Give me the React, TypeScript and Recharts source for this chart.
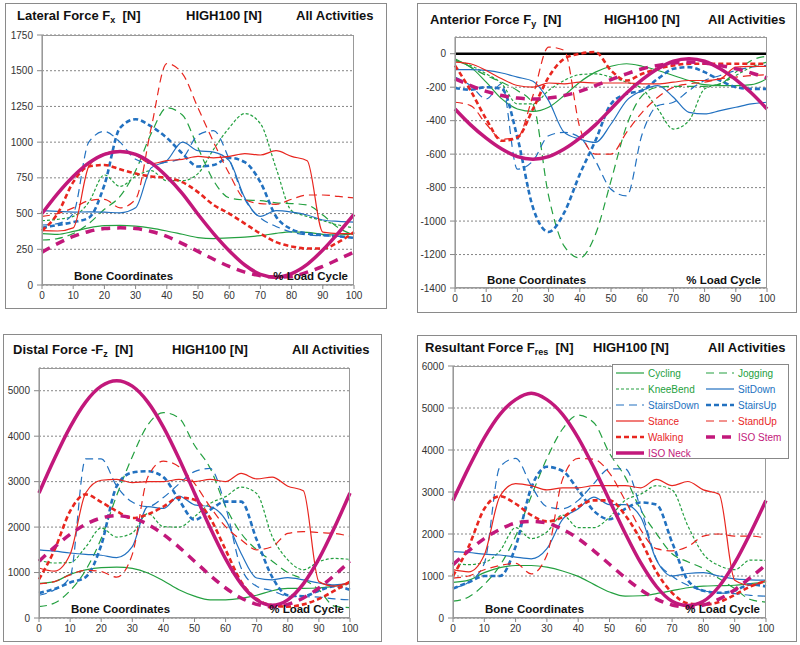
import { LineChart, Line, XAxis, YAxis, CartesianGrid, ReferenceLine } from "recharts"

const loadCycle = [0, 5, 10, 15, 20, 25, 30, 35, 40, 45, 50, 55, 60, 65, 70, 75, 80, 85, 90, 95, 100]
const xTicks = [0, 10, 20, 30, 40, 50, 60, 70, 80, 90, 100]

// Lateral force Fx
const fxCycling = [360, 355, 375, 400, 415, 418, 412, 398, 378, 355, 332, 325, 330, 335, 345, 362, 372, 368, 355, 350, 360]
const fxJogging = [315, 325, 360, 430, 530, 620, 800, 1060, 1240, 1190, 960, 730, 610, 595, 590, 575, 570, 560, 490, 400, 350]
const fxKneeBend = [450, 460, 480, 580, 770, 690, 760, 800, 730, 730, 780, 950, 1100, 1200, 1130, 820, 520, 480, 450, 420, 400]
const fxSitDown = [520, 515, 510, 512, 510, 505, 540, 820, 870, 1000, 940, 930, 870, 610, 480, 520, 510, 490, 455, 445, 440]
const fxStairsDown = [420, 430, 500, 1000, 1075, 1000, 880, 850, 860, 890, 1050, 1080, 880, 600, 470, 410, 370, 350, 345, 340, 330]
const fxStairsUp = [400, 420, 440, 470, 700, 1100, 1160, 1110, 1030, 920, 830, 840, 890, 860, 720, 480, 390, 360, 350, 340, 330]
const fxStance = [380, 378, 400, 830, 920, 940, 910, 850, 870, 880, 900, 890, 900, 920, 910, 940, 900, 870, 370, 360, 360]
const fxStandUp = [480, 500, 540, 590, 600, 540, 600, 1100, 1550, 1480, 1240, 1000, 780, 600, 570, 565, 600, 630, 630, 620, 610]
const fxWalking = [380, 500, 720, 830, 840, 810, 780, 760, 750, 720, 650, 560, 500, 430, 360, 300, 270, 255, 255, 300, 370]
const fxIsoStem = [230, 290, 340, 375, 395, 400, 395, 375, 340, 290, 235, 180, 130, 90, 65, 55, 60, 90, 130, 180, 230]
const fxIsoNeck = [500, 640, 760, 855, 915, 935, 915, 855, 760, 640, 495, 360, 240, 140, 75, 55, 80, 145, 245, 365, 495]

// Anterior force Fy
const fyCycling = [-40, -80, -170, -270, -330, -345, -320, -250, -170, -110, -75, -60, -75, -100, -130, -160, -185, -190, -190, -185, -150]
const fyJogging = [-30, -80, -130, -170, -220, -300, -850, -1150, -1220, -1080, -760, -430, -250, -200, -195, -195, -195, -180, -110, -40, -15]
const fyKneeBend = [-40, -70, -120, -180, -300, -300, -220, -160, -125, -120, -140, -170, -210, -330, -450, -400, -210, -180, -130, -80, -50]
const fySitDown = [-95, -95, -100, -115, -140, -165, -280, -470, -510, -530, -420, -280, -220, -190, -260, -350, -360, -340, -320, -300, -290]
const fyStairsDown = [-140, -190, -270, -180, -690, -640, -490, -470, -500, -640, -810, -850, -480, -310, -290, -220, -160, -130, -100, -80, -70]
const fyStairsUp = [-205, -215, -200, -210, -500, -920, -1065, -950, -720, -520, -300, -240, -220, -150, -90, -80, -110, -160, -200, -210, -210]
const fyStance = [-50, -60, -100, -150, -190, -200, -175, -180, -170, -175, -175, -175, -180, -180, -170, -160, -160, -150, -80, -75, -75]
const fyStandUp = [-290, -310, -420, -510, -500, -250, 40, 20, -440, -600, -600, -470, -350, -260, -200, -180, -170, -150, -140, -130, -125]
const fyWalking = [-70, -220, -390, -520, -500, -330, -140, -30, 0, 10, -100, -160, -120, -90, -70, -60, -60, -60, -60, -60, -60]
const fyIsoStem = [-150, -190, -225, -250, -265, -270, -265, -250, -225, -190, -155, -120, -90, -70, -55, -50, -55, -70, -90, -115, -145]
const fyIsoNeck = [-330, -425, -505, -570, -615, -630, -615, -570, -505, -425, -330, -235, -155, -90, -45, -30, -45, -90, -155, -235, -330]

// Distal force -Fz
const fzCycling = [760, 800, 960, 1060, 1110, 1120, 1090, 990, 820, 620, 480, 400, 400, 430, 500, 600, 650, 650, 660, 700, 760]
const fzJogging = [250, 330, 600, 1050, 1750, 2700, 3550, 4250, 4520, 4400, 3800, 3300, 2450, 1860, 1500, 1250, 1000, 850, 620, 260, 230]
const fzKneeBend = [1270, 1210, 1220, 1560, 1980, 1780, 1870, 2300, 2010, 2000, 2230, 2520, 2670, 2880, 2740, 1790, 1280, 1060, 1240, 1310, 1290]
const fzSitDown = [1500, 1470, 1430, 1400, 1380, 1330, 1570, 2450, 2410, 2680, 2490, 2450, 2160, 1420, 880, 840, 890, 840, 770, 730, 760]
const fzStairsDown = [500, 620, 900, 3500, 3500, 2900, 2550, 2450, 2650, 2950, 3220, 3290, 2450, 1100, 700, 600, 480, 470, 460, 420, 400]
const fzStairsUp = [550, 640, 780, 900, 1600, 2900, 3200, 3230, 3100, 2600, 2160, 2380, 2560, 2560, 1720, 900, 500, 480, 600, 700, 620]
const fzStance = [1100, 1030, 1400, 2750, 3030, 3050, 2980, 3000, 3000, 3050, 3000, 3050, 3000, 3180, 3060, 3100, 2900, 2800, 800, 700, 800]
const fzStandUp = [750, 800, 950, 1050, 1020, 900, 1400, 3100, 3450, 3330, 2960, 2450, 2010, 1720, 1500, 1570, 1860, 1900, 1880, 1860, 1800]
const fzWalking = [850, 1500, 2350, 2720, 2550, 2350, 2200, 2280, 2450, 2650, 2600, 2200, 1500, 800, 420, 280, 250, 300, 420, 600, 800]
const fzIsoStem = [1250, 1560, 1840, 2060, 2200, 2250, 2200, 2060, 1840, 1560, 1250, 940, 660, 440, 300, 250, 300, 440, 660, 940, 1250]
const fzIsoNeck = [2750, 3510, 4200, 4750, 5100, 5220, 5100, 4750, 4200, 3510, 2750, 1990, 1300, 750, 400, 280, 400, 750, 1300, 1990, 2750]

// Resultant force Fres
const frCycling = [850, 900, 1080, 1200, 1250, 1250, 1210, 1120, 990, 800, 620, 520, 530, 580, 650, 720, 760, 770, 780, 820, 860]
const frJogging = [400, 500, 800, 1250, 1950, 2900, 3800, 4500, 4830, 4650, 3920, 3360, 2570, 2010, 1530, 1340, 1180, 940, 700, 440, 380]
const frKneeBend = [1300, 1270, 1320, 1600, 2150, 1890, 2050, 2450, 2150, 2150, 2400, 2800, 2950, 3150, 3050, 2200, 1520, 1250, 1150, 1380, 1370]
const frSitDown = [1580, 1560, 1520, 1500, 1450, 1410, 1650, 2350, 2600, 2880, 2700, 2700, 2400, 1380, 1000, 1060, 1080, 1000, 930, 910, 900]
const frStairsDown = [720, 850, 1300, 3600, 3800, 3150, 2650, 2600, 2800, 3200, 3550, 3550, 2600, 1400, 1000, 780, 650, 600, 580, 540, 520]
const frStairsUp = [700, 850, 1000, 1000, 1700, 3100, 3600, 3500, 3050, 2550, 2350, 2600, 2750, 2700, 1800, 900, 650, 600, 650, 800, 750]
const frStance = [1150, 1100, 1500, 2900, 3200, 3150, 3050, 3100, 3100, 3150, 3150, 3150, 3100, 3300, 3150, 3250, 3050, 2950, 900, 780, 900]
const frStandUp = [950, 1000, 1150, 1250, 1300, 1050, 1500, 3300, 3800, 3780, 3450, 2800, 2100, 1650, 1600, 1700, 1950, 2000, 1950, 1950, 1900]
const frWalking = [1000, 1700, 2600, 2900, 2720, 2450, 2300, 2400, 2650, 2800, 2800, 2450, 1850, 1100, 600, 350, 320, 380, 550, 750, 880]
const frIsoStem = [1270, 1600, 1890, 2110, 2260, 2300, 2260, 2110, 1890, 1600, 1280, 960, 670, 450, 310, 260, 310, 450, 670, 960, 1270]
const frIsoNeck = [2800, 3580, 4290, 4850, 5200, 5350, 5200, 4850, 4290, 3580, 2800, 2020, 1310, 750, 400, 300, 400, 750, 1310, 2020, 2800]

const GREEN = "#24a040"
const BLUE = "#2271c0"
const RED = "#e8261f"
const MAGENTA = "#c2187b"

const series = [
  { key: "Cycling", color: GREEN, width: 1.2, dash: undefined },
  { key: "Jogging", color: GREEN, width: 1.2, dash: "8 5" },
  { key: "KneeBend", color: GREEN, width: 1.2, dash: "3 2" },
  { key: "SitDown", color: BLUE, width: 1.2, dash: undefined },
  { key: "StairsDown", color: BLUE, width: 1.2, dash: "8 5" },
  { key: "StairsUp", color: BLUE, width: 2.6, dash: "5 3" },
  { key: "Stance", color: RED, width: 1.2, dash: undefined },
  { key: "StandUp", color: RED, width: 1.2, dash: "8 5" },
  { key: "Walking", color: RED, width: 2.6, dash: "5 3" },
  { key: "ISO Stem", color: MAGENTA, width: 3.5, dash: "9 7" },
  { key: "ISO Neck", color: MAGENTA, width: 3.5, dash: undefined },
]

const panels = [
  {
    title: "Lateral Force F", sub: "x", unit: "  [N]",
    box: [5, 3, 387, 309], plot: [42, 35, 354, 285],
    titleX: [17, 186, 296], titleY: 17, noteY: 277,
    domain: [0, 1750], ticks: [0, 250, 500, 750, 1000, 1250, 1500, 1750],
    values: [fxCycling, fxJogging, fxKneeBend, fxSitDown, fxStairsDown, fxStairsUp, fxStance, fxStandUp, fxWalking, fxIsoStem, fxIsoNeck],
  },
  {
    title: "Anterior Force F", sub: "y", unit: "  [N]",
    box: [417, 3, 797, 313], plot: [455, 37, 767, 288],
    titleX: [430, 604, 708], titleY: 21, noteY: 281, zero: true,
    domain: [-1400, 100], ticks: [-1400, -1200, -1000, -800, -600, -400, -200, 0],
    values: [fyCycling, fyJogging, fyKneeBend, fySitDown, fyStairsDown, fyStairsUp, fyStance, fyStandUp, fyWalking, fyIsoStem, fyIsoNeck],
  },
  {
    title: "Distal Force -F", sub: "z", unit: "  [N]",
    box: [3, 334, 382, 642], plot: [39, 368, 350, 618],
    titleX: [13, 172, 292], titleY: 351, noteY: 610,
    domain: [0, 5500], ticks: [0, 1000, 2000, 3000, 4000, 5000],
    values: [fzCycling, fzJogging, fzKneeBend, fzSitDown, fzStairsDown, fzStairsUp, fzStance, fzStandUp, fzWalking, fzIsoStem, fzIsoNeck],
  },
  {
    title: "Resultant Force F", sub: "res", unit: "  [N]",
    box: [417, 335, 797, 642], plot: [453, 366, 766, 618],
    titleX: [425, 593, 708], titleY: 349, noteY: 610,
    domain: [0, 6000], ticks: [0, 1000, 2000, 3000, 4000, 5000, 6000],
    values: [frCycling, frJogging, frKneeBend, frSitDown, frStairsDown, frStairsUp, frStance, frStandUp, frWalking, frIsoStem, frIsoNeck],
  },
]

const FONT = "'Liberation Sans', Arial, sans-serif"
const X_AXIS_H = 22

function Panel({ p }: { p: (typeof panels)[number] }) {
  const [bl, bt, br, bb] = p.box
  const [pl, pt, pr, pb] = p.plot
  const w = br - bl
  const h = bb - bt
  const rows = loadCycle.map((x, i) => {
    const row: Record<string, number> = { x }
    series.forEach((s, j) => (row[s.key] = p.values[j][i]))
    return row
  })
  const titleStyle = {
    position: "absolute" as const,
    top: p.titleY - bt - 9,
    fontWeight: "bold" as const,
    fontSize: 13,
    whiteSpace: "pre" as const,
    color: "#111",
  }
  const noteStyle = {
    position: "absolute" as const,
    top: p.noteY - bt - 7,
    fontWeight: "bold" as const,
    fontSize: 11.5,
    color: "#111",
    whiteSpace: "pre" as const,
  }
  return (
    <div style={{ position: "absolute", left: bl, top: bt, width: w, height: h, fontFamily: FONT }}>
      <LineChart
        width={w}
        height={h}
        data={rows}
        margin={{ top: pt - bt, right: br - pr, left: 0, bottom: bb - pb - X_AXIS_H }}
      >
        <CartesianGrid vertical={false} stroke="#666" strokeDasharray="2 2" strokeWidth={0.8} />
        <XAxis
          dataKey="x"
          type="number"
          domain={[0, 100]}
          ticks={xTicks}
          height={X_AXIS_H}
          tickSize={4}
          tickMargin={3}
          stroke="#888"
          tick={{ fill: "#333", fontSize: 10, fontFamily: FONT }}
        />
        <YAxis
          type="number"
          domain={p.domain}
          ticks={p.ticks}
          width={pl - bl}
          tickSize={5}
          tickMargin={4}
          stroke="#888"
          interval={0}
          tick={{ fill: "#333", fontSize: 10, fontFamily: FONT }}
        />
        {p.zero && <ReferenceLine y={0} stroke="#000" strokeWidth={2.5} />}
        {series.map((s) => (
          <Line
            key={s.key}
            dataKey={s.key}
            type="monotone"
            stroke={s.color}
            strokeWidth={s.width}
            strokeDasharray={s.dash}
            dot={false}
            isAnimationActive={false}
          />
        ))}
      </LineChart>
      <div
        style={{
          position: "absolute",
          left: pl - bl,
          top: pt - bt,
          width: pr - pl,
          height: pb - pt,
          border: "1px solid #999",
          boxSizing: "border-box",
          pointerEvents: "none",
        }}
      />
      <div style={{ position: "absolute", inset: 0, border: "1px solid #8a8a8a", pointerEvents: "none" }} />
      <div style={{ ...titleStyle, left: p.titleX[0] - bl }}>
        {p.title}
        <sub style={{ fontSize: 9, verticalAlign: "-3px" }}>{p.sub}</sub>
        {p.unit}
      </div>
      <div style={{ ...titleStyle, left: p.titleX[1] - bl }}>HIGH100 [N]</div>
      <div style={{ ...titleStyle, left: p.titleX[2] - bl }}>All Activities</div>
      <div style={{ ...noteStyle, left: pl - bl + 32 }}>Bone Coordinates</div>
      <div style={{ ...noteStyle, right: br - pr + 6 }}>% Load Cycle</div>
    </div>
  )
}

function LegendBox() {
  const rowsY = [8, 24, 40, 56, 72, 88]
  return (
    <div
      style={{
        position: "absolute",
        left: 612,
        top: 364,
        width: 177,
        height: 95,
        background: "#fff",
        border: "1px solid #888",
        boxSizing: "border-box",
        fontFamily: FONT,
        fontSize: 10,
      }}
    >
      {series.map((s, i) => {
        const col = i % 2
        const row = Math.floor(i / 2)
        const lx = col === 0 ? 3 : 93
        return (
          <div key={s.key} style={{ position: "absolute", left: lx, top: rowsY[row] - 7, height: 14, display: "flex", alignItems: "center" }}>
            <svg width={28} height={10} style={{ marginRight: 4 }}>
              <line x1={0} y1={5} x2={28} y2={5} stroke={s.color} strokeWidth={s.width} strokeDasharray={s.dash} />
            </svg>
            <span style={{ color: s.color, whiteSpace: "nowrap" }}>{s.key}</span>
          </div>
        )
      })}
    </div>
  )
}

export default function App() {
  return (
    <div style={{ position: "absolute", left: 0, top: 0, width: 800, height: 645, background: "#fff" }}>
      {panels.map((p) => (
        <Panel key={p.title} p={p} />
      ))}
      <LegendBox />
    </div>
  )
}
